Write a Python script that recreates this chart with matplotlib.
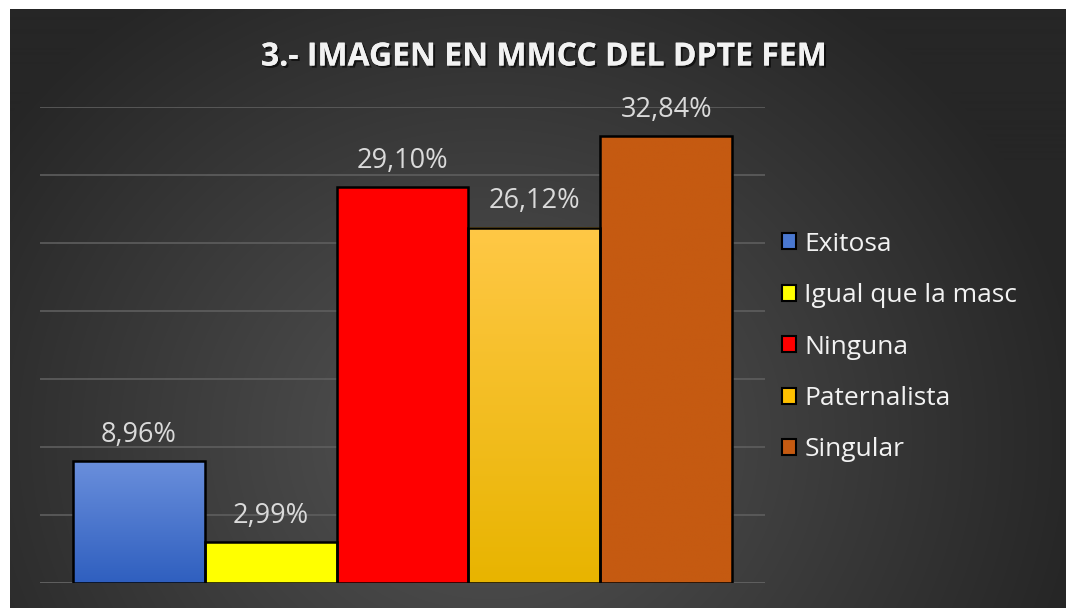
import numpy as np
import matplotlib
matplotlib.use("Agg")
import matplotlib.pyplot as plt
import matplotlib.patheffects as pe
from matplotlib.colors import LinearSegmentedColormap
from matplotlib.patches import Patch

categories = ["Exitosa", "Igual que la masc", "Ninguna", "Paternalista", "Singular"]
values = [8.96, 2.99, 29.10, 26.12, 32.84]
labels = ["8,96%", "2,99%", "29,10%", "26,12%", "32,84%"]
title = "3.- IMAGEN EN MMCC DEL DPTE FEM"

# gradient (top, bottom) colours per bar
grad_colors = [("#6a8fdc", "#2f5fbf"), ("#ffff00", "#ffff00"), ("#ff0000", "#ff0000"),
               ("#ffc846", "#e8b400"), ("#c55a11", "#c55a11")]
legend_colors = ["#4a78d0", "#ffff00", "#ff0000", "#ffc000", "#c55a11"]

W, H = 1066, 608
fig = plt.figure(figsize=(W / 100, H / 100), dpi=100)
fig.patch.set_facecolor("white")

# background panel (starts at x=10, y=9)
bg = fig.add_axes([10 / W, 0, 1 - 10 / W, 1 - 9 / H])
bg.set_axis_off()
yy, xx = np.mgrid[0:600, 0:1056]
cx, cy = 480, 430
r = np.sqrt(((xx - cx) / 1.0) ** 2 + ((yy - cy) / 0.9) ** 2)
t = np.clip(r / 600, 0, 1)
c0, c1 = 0x55, 0x26
g = (c0 + (c1 - c0) * t) / 255.0
img = np.dstack([g, g, g])
bg.imshow(img, aspect="auto", extent=[0, 1, 0, 1], origin="upper")
bg.set_xlim(0, 1)
bg.set_ylim(0, 1)

ax = fig.add_axes([40 / W, 1 - 583 / H, (765 - 40) / W, (583 - 107) / H])
ax.patch.set_alpha(0)
for s in ax.spines.values():
    s.set_visible(False)
ax.set_xticks([])
ax.set_yticks(np.arange(0, 36, 5))
ax.tick_params(left=False, labelleft=False)
ax.grid(axis="y", color="#5e5e5e", linewidth=1.2, zorder=0)

x = np.arange(len(values))
bars = ax.bar(x, values, width=1.0, color="none", edgecolor="black", linewidth=1.8, zorder=3)
for b, (ctop, cbot) in zip(bars, grad_colors):
    cmap = LinearSegmentedColormap.from_list("g", [cbot, ctop])
    x0, y0 = b.get_x(), b.get_y()
    w, h = b.get_width(), b.get_height()
    grad = np.linspace(0, 1, 256).reshape(-1, 1)
    ax.imshow(grad, cmap=cmap, aspect="auto", origin="lower",
              extent=[x0, x0 + w, y0, y0 + h], zorder=2)
ax.set_xlim(-0.75, 4.75)
ax.set_ylim(0, 35)
ax.axhline(0, color="#6a6a6a", linewidth=1.2, zorder=1)

for xi, v, lab in zip(x, values, labels):
    ax.annotate(lab, (xi, v), xytext=(0, 9), textcoords="offset points",
                ha="center", va="bottom", color="#dadada", fontsize=19.5,
                family="Open Sans", zorder=5)

fig.text(545 / W, 1 - 57 / H, title, ha="center", va="center", color="#f2f2f2",
         fontsize=23, fontweight="bold", family="Open Sans",
         path_effects=[pe.withSimplePatchShadow(offset=(1.5, -1.5), shadow_rgbFace="black", alpha=0.6),
                       pe.Normal()])

handles = [Patch(facecolor=c, edgecolor="black", linewidth=1.5) for c in legend_colors]
leg = fig.legend(handles, categories, loc="center left", bbox_to_anchor=(758 / W, 1 - 347 / H),
                 frameon=False, labelcolor="#f2f2f2",
                 handlelength=0.55, handleheight=0.55, handletextpad=0.3,
                 labelspacing=1.0, prop={"family": "Open Sans", "size": 19})

fig.savefig("out.png", dpi=100, facecolor="white")
